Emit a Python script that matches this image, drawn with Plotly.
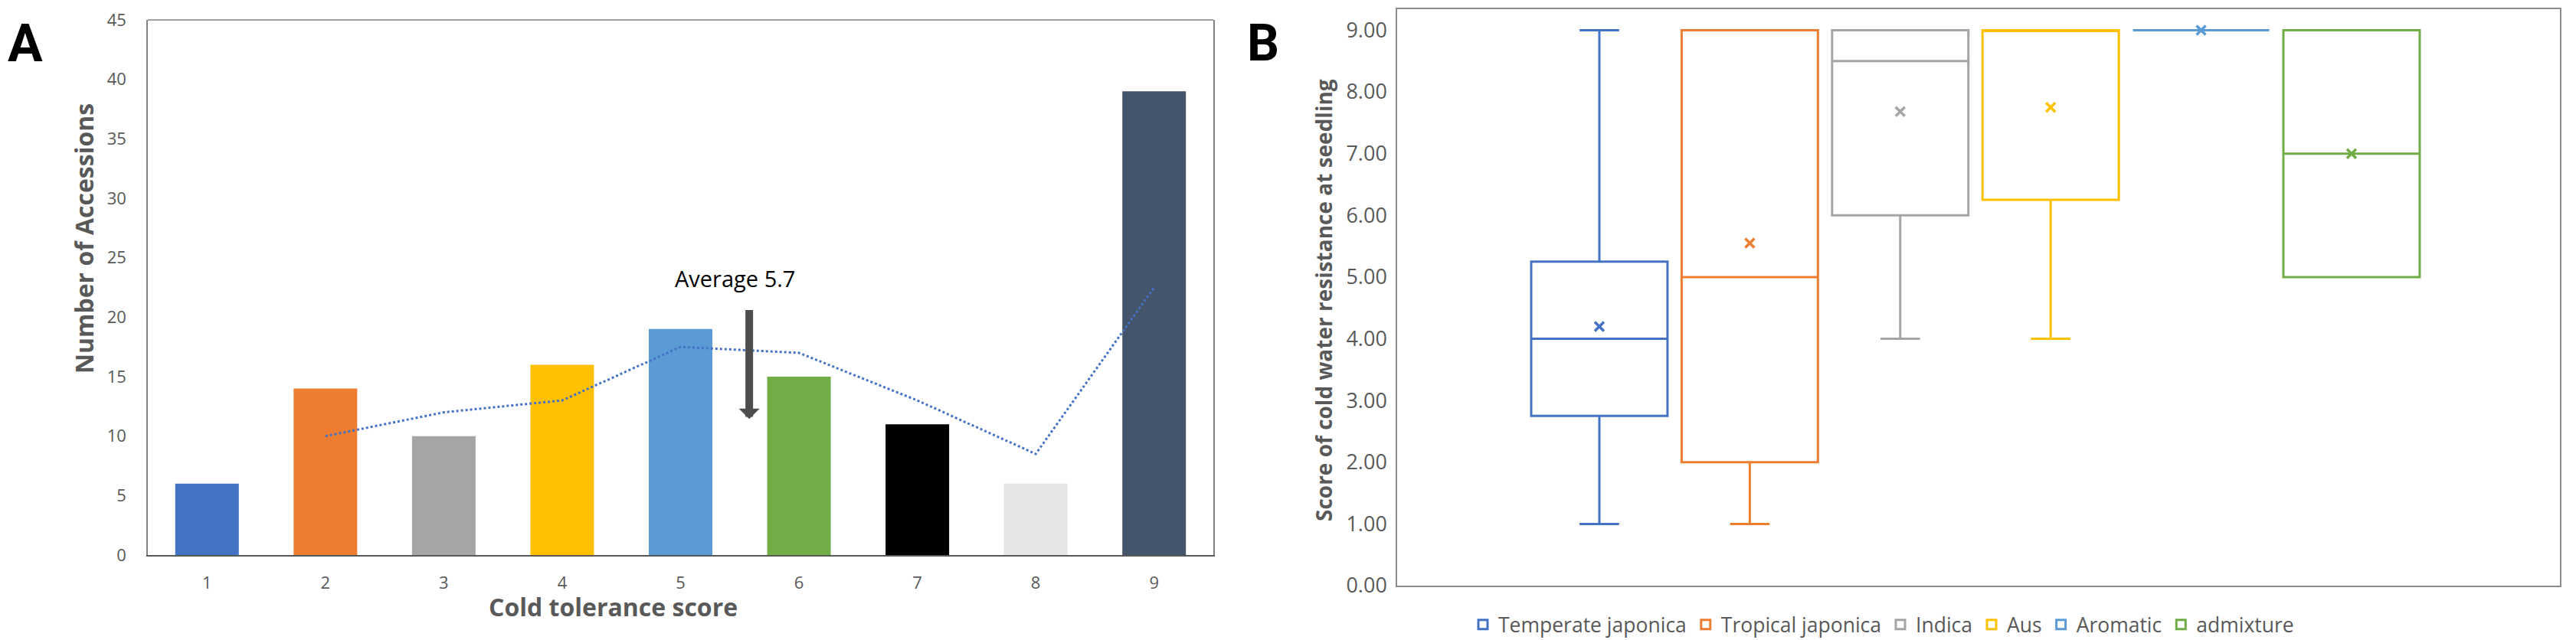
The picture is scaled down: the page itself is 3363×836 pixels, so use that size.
import plotly.graph_objects as go

# ---------------- Panel A data ----------------
scores = [1, 2, 3, 4, 5, 6, 7, 8, 9]
accessions = [6, 14, 10, 16, 19, 15, 11, 6, 39]
trend_x = [2, 3, 4, 5, 6, 7, 8, 9]
trend_y = [10, 12, 13, 17.5, 17, 13, 8.5, 22.5]
a_yticks = [0, 5, 10, 15, 20, 25, 30, 35, 40, 45]
average_label = "Average 5.7"

# ---------------- Panel B data ----------------
groups = ["Temperate japonica", "Tropical japonica", "Indica", "Aus", "Aromatic", "admixture"]
lower_whisker = [1, 1, 4, 4, 9, 5]
q1_vals = [2.75, 2, 6, 6.25, 9, 5]
median_vals = [4, 5, 8.5, 9, 9, 7]
q3_vals = [5.25, 9, 9, 9, 9, 9]
upper_whisker = [9, 9, 9, 9, 9, 9]
mean_vals = [4.2, 5.55, 7.68, 7.75, 9, 7]
b_yticks = [0, 1, 2, 3, 4, 5, 6, 7, 8, 9]

# ---------------- styles ----------------
bar_colors = ["#4472C4", "#ED7D31", "#A5A5A5", "#FFC000", "#5B9BD5",
              "#70AD47", "#000000", "#E7E6E6", "#44546A"]
group_colors = ["#4472C4", "#ED7D31", "#A5A5A5", "#FFC000", "#5B9BD5", "#70AD47"]
GRAY = "#595959"
FONT = "Open Sans"
W, H = 3363, 836

fig = go.Figure()

fig.add_trace(go.Bar(
    x=scores, y=accessions, marker=dict(color=bar_colors, line=dict(width=0)),
    width=0.537, xaxis="x", yaxis="y", showlegend=False, hoverinfo="x+y"))

fig.add_trace(go.Scatter(
    x=trend_x, y=trend_y, mode="lines",
    line=dict(color="#4472C4", width=3, dash="dot"),
    xaxis="x", yaxis="y", showlegend=False))

for i, g in enumerate(groups):
    fig.add_trace(go.Box(
        name=g, x=[g], q1=[q1_vals[i]], median=[median_vals[i]], q3=[q3_vals[i]],
        lowerfence=[lower_whisker[i]], upperfence=[upper_whisker[i]],
        line=dict(color=group_colors[i], width=3),
        fillcolor="rgba(255,255,255,0)", whiskerwidth=0.29, width=0.906,
        boxpoints=False, xaxis="x2", yaxis="y2", showlegend=True))
for i, g in enumerate(groups):
    fig.add_trace(go.Scatter(
        x=[g], y=[mean_vals[i]], mode="markers",
        marker=dict(symbol="x-thin", size=12, color=group_colors[i],
                    line=dict(color=group_colors[i], width=3.5)),
        xaxis="x2", yaxis="y2", showlegend=False))

fig.update_layout(
    width=W, height=H, margin=dict(l=0, r=0, t=0, b=0, autoexpand=False),
    paper_bgcolor="white", plot_bgcolor="white",
    font=dict(family=FONT, color=GRAY),
    xaxis=dict(domain=[193 / W, 1584 / W], range=[0.5, 9.5], tickvals=scores,
               anchor="y", showgrid=False, zeroline=False, showline=True, linecolor=GRAY,
               linewidth=2, ticks="outside", ticklen=16, tickcolor="rgba(0,0,0,0)",
               tickfont=dict(size=22, color=GRAY, family=FONT)),
    yaxis=dict(domain=[1 - 725 / H, 1 - 26 / H], range=[0, 45], tickvals=a_yticks,
               anchor="x", showgrid=False, zeroline=False, showline=True, mirror=True,
               linecolor="#7F7F7F", linewidth=1.5, ticks="", ticklabelstandoff=22,
               tickfont=dict(size=22, color=GRAY, family=FONT)),
    xaxis2=dict(domain=[1824 / W, 3342 / W], range=[-1.344, 6.385], type="category",
                categoryorder="array", categoryarray=groups, anchor="y2",
                showticklabels=False, showgrid=False, zeroline=False,
                showline=True, mirror=True, linecolor="#8C8C8C", linewidth=1.5, ticks=""),
    yaxis2=dict(domain=[1 - 765 / H, 1 - 12 / H], range=[0, 9.34], tickvals=b_yticks,
                tickformat=".2f", anchor="x2", showgrid=False, zeroline=False,
                showline=True, mirror=True, linecolor="#8C8C8C", linewidth=1.5,
                ticks="", ticklabelstandoff=6,
                tickfont=dict(size=27, color=GRAY, family=FONT)),
    legend=dict(orientation="h", x=2458 / W, xanchor="center", y=0.024, yanchor="middle",
                font=dict(size=26.5, color=GRAY, family=FONT), itemwidth=30,
                bgcolor="rgba(0,0,0,0)"),
    showlegend=True,
)

# top border of panel A plot area
fig.add_shape(type="line", xref="x domain", yref="y domain", x0=0, x1=1, y0=1, y1=1,
              line=dict(color="#7F7F7F", width=1.5))

annotations = [
    dict(text="<b>A</b>", xref="paper", yref="paper", x=8 / W, y=1 - 57 / H,
         xanchor="left", yanchor="middle", showarrow=False,
         font=dict(size=68, color="black", family="Roboto")),
    dict(text="<b>B</b>", xref="paper", yref="paper", x=1626 / W, y=1 - 57 / H,
         xanchor="left", yanchor="middle", showarrow=False,
         font=dict(size=66, color="black", family="Roboto")),
    dict(text="<b>Number of Accessions</b>", xref="paper", yref="paper",
         x=110 / W, y=1 - 312 / H, xanchor="center", yanchor="middle",
         textangle=-90, showarrow=False, font=dict(size=32, color=GRAY, family=FONT)),
    dict(text="<b>Cold tolerance score</b>", xref="paper", yref="paper",
         x=800 / W, y=1 - 792 / H, xanchor="center", yanchor="middle",
         showarrow=False, font=dict(size=32, color=GRAY, family=FONT)),
    dict(text="<b>Score of cold water resistance at seedling</b>", xref="paper", yref="paper",
         x=1728 / W, y=1 - 392 / H, xanchor="center", yanchor="middle",
         textangle=-90, showarrow=False, font=dict(size=28, color=GRAY, family=FONT)),
    dict(text=average_label, xref="x", yref="y", x=5.46, y=23.3,
         xanchor="center", yanchor="middle", showarrow=False,
         font=dict(size=29, color="black", family=FONT)),
    dict(text="", xref="x", yref="y", x=5.58, y=11.45, axref="x", ayref="y",
         ax=5.58, ay=20.7, showarrow=True, arrowhead=1, arrowsize=0.45,
         arrowwidth=10, arrowcolor="#4D4D4D"),
]
fig.update_layout(annotations=annotations)

fig.write_html("out.html")
